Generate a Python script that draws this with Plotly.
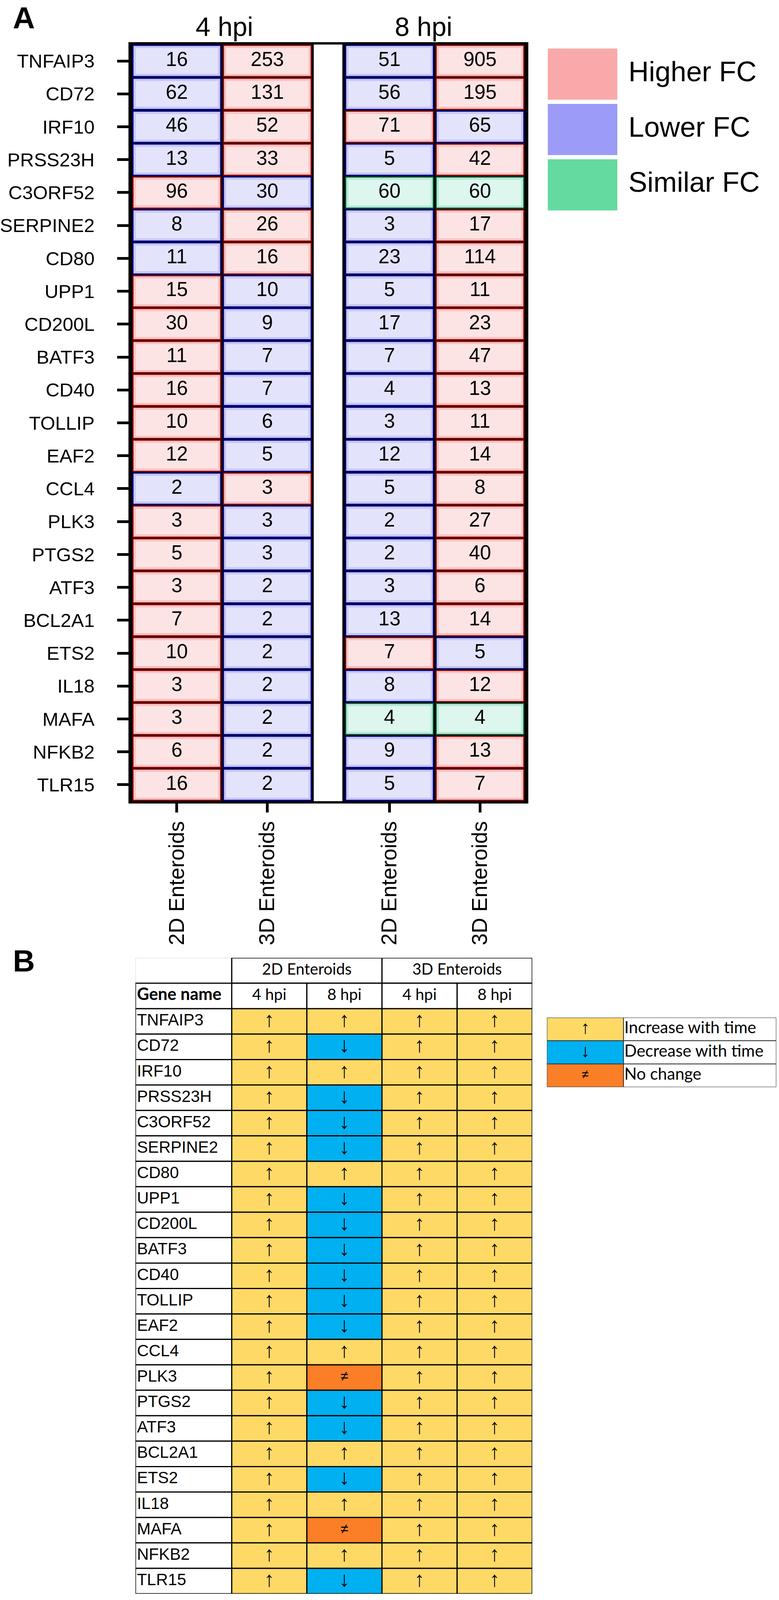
"""Fold-change comparison of 2D vs 3D enteroids (panel A) and time trend table (panel B)."""

import plotly.graph_objects as go

W, H = 1995, 4164

ARIAL = "Liberation Sans, Arial, sans-serif"
CALIBRI = "Lato, Carlito, Calibri, sans-serif"

# ---------------------------------------------------------------------------
# Data
# ---------------------------------------------------------------------------

genes = [
    "TNFAIP3", "CD72", "IRF10", "PRSS23H", "C3ORF52", "SERPINE2", "CD80",
    "UPP1", "CD200L", "BATF3", "CD40", "TOLLIP", "EAF2", "CCL4", "PLK3",
    "PTGS2", "ATF3", "BCL2A1", "ETS2", "IL18", "MAFA", "NFKB2", "TLR15",
]

fc_4hpi_2d = [16, 62, 46, 13, 96, 8, 11, 15, 30, 11, 16, 10, 12, 2, 3, 5, 3, 7, 10, 3, 3, 6, 16]
fc_4hpi_3d = [253, 131, 52, 33, 30, 26, 16, 10, 9, 7, 7, 6, 5, 3, 3, 3, 2, 2, 2, 2, 2, 2, 2]
fc_8hpi_2d = [51, 56, 71, 5, 60, 3, 23, 5, 17, 7, 4, 3, 12, 5, 2, 2, 3, 13, 7, 8, 4, 9, 5]
fc_8hpi_3d = [905, 195, 65, 42, 60, 17, 114, 11, 23, 47, 13, 11, 14, 8, 27, 40, 6, 14, 5, 12, 4, 13, 7]

# class of the 2D column at each time point (H higher, L lower, S similar);
# the 3D column takes the opposite class
class_4hpi_2d = ["L", "L", "L", "L", "H", "L", "L", "H", "H", "H", "H", "H",
                 "H", "L", "H", "H", "H", "H", "H", "H", "H", "H", "H"]
class_8hpi_2d = ["L", "L", "H", "L", "S", "L", "L", "L", "L", "L", "L", "L",
                 "L", "L", "L", "L", "L", "L", "H", "L", "S", "L", "L"]

column_labels = ["2D Enteroids", "3D Enteroids", "2D Enteroids", "3D Enteroids"]
time_labels = ["4 hpi", "8 hpi"]
fc_legend_labels = ["Higher FC", "Lower FC", "Similar FC"]

# panel B: trend with time (up / down / nc)
trend_2d_4hpi = ["up"] * 23
trend_2d_8hpi = ["up", "down", "up", "down", "down", "down", "up", "down", "down",
                 "down", "down", "down", "down", "up", "nc", "down", "down", "up",
                 "down", "up", "nc", "up", "down"]
trend_3d_4hpi = ["up"] * 23
trend_3d_8hpi = ["up"] * 23

table_groups = ["2D Enteroids", "3D Enteroids"]
table_times = ["4 hpi", "8 hpi", "4 hpi", "8 hpi"]
trend_legend_labels = ["Increase with time", "Decrease with time", "No change"]

# ---------------------------------------------------------------------------
# Styling
# ---------------------------------------------------------------------------

OPPOSITE = {"H": "L", "L": "H", "S": "S"}
CELL_LIGHT = {"H": "#fde4e4", "L": "#e3e3fb", "S": "#ddf6ee"}
CELL_MID = {"H": "#f6c2c2", "L": "#c6c6f4", "S": "#b2ead6"}
CELL_EDGE = {"H": "#8a0000", "L": "#000088", "S": "#00502a"}
LEGEND_FC_COLORS = ["#f9a9a9", "#9c9cf8", "#64d9a0"]

TREND_COLOR = {"up": "#ffd966", "down": "#00b0f0", "nc": "#fa7f26"}
TREND_GLYPH = {"up": "\u2191", "down": "\u2193", "nc": "\u2260"}
GLYPH_SIZE = {"up": 54, "down": 54, "nc": 36}
LEGEND_GLYPH_SIZE = {"up": 46, "down": 46, "nc": 32}
trend_keys = ["up", "down", "nc"]

# the browser window shows a little less than the full 4164 px, so the
# table of panel B is kept slightly shorter than in the original
B_TOP, B_BOTTOM = 2452, 4080


def fx(p):
    return p / W


def fy(p):
    return 1 - p / H


fig = go.Figure()

# ---------------------------------------------------------------------------
# Panel A: fold-change grid
# ---------------------------------------------------------------------------

PX_PER_UNIT = 234.0
col_pos = [0, 1, 2.35, 3.35]
cell_w = 227 / PX_PER_UNIT
cell_h = 0.95
inset_x = 7 / PX_PER_UNIT
inset_y = 7 / 84.2
rows = list(range(len(genes)))

fc_columns = [fc_4hpi_2d, fc_4hpi_3d, fc_8hpi_2d, fc_8hpi_3d]
class_columns = [
    class_4hpi_2d,
    [OPPOSITE[c] for c in class_4hpi_2d],
    class_8hpi_2d,
    [OPPOSITE[c] for c in class_8hpi_2d],
]

for pos, values, classes in zip(col_pos, fc_columns, class_columns):
    n = len(values)
    fig.add_trace(go.Bar(
        y=rows, x=[cell_w] * n, base=[pos - cell_w / 2] * n, orientation="h",
        width=cell_h,
        marker=dict(color=[CELL_MID[c] for c in classes],
                    line=dict(color=[CELL_EDGE[c] for c in classes], width=3)),
        xaxis="x", yaxis="y", hoverinfo="skip", showlegend=False,
    ))
    fig.add_trace(go.Bar(
        y=rows, x=[cell_w - 2 * inset_x] * n,
        base=[pos - cell_w / 2 + inset_x] * n, orientation="h",
        width=cell_h - 2 * inset_y,
        marker=dict(color=[CELL_LIGHT[c] for c in classes], line=dict(width=0)),
        xaxis="x", yaxis="y", hoverinfo="skip", showlegend=False,
    ))
    fig.add_trace(go.Scatter(
        x=[pos] * n, y=rows, mode="text", text=[str(v) for v in values],
        textposition="middle center",
        textfont=dict(family=ARIAL, size=51, color="black"),
        xaxis="x", yaxis="y", hoverinfo="skip", showlegend=False, cliponaxis=False,
    ))

x_left = (319 - 438) / PX_PER_UNIT
x_right = (1341 - 438) / PX_PER_UNIT
block_edges = [(x_left, (792 - 438) / PX_PER_UNIT), ((866 - 438) / PX_PER_UNIT, x_right)]
shapes = []
for x0, x1 in block_edges:
    shapes.append(dict(type="rect", xref="x", yref="y", x0=x0, x1=x1,
                       y0=-0.5, y1=len(genes) - 0.5, fillcolor="black",
                       line=dict(width=0), layer="below"))

annotations = []
for i, label in enumerate(time_labels):
    centre = (col_pos[2 * i] + col_pos[2 * i + 1]) / 2
    annotations.append(dict(
        text=label, x=centre, xref="x", y=fy(68), yref="paper",
        xanchor="center", yanchor="middle", showarrow=False,
        xshift=6 if i == 0 else -29,
        font=dict(family=ARIAL, size=68, color="black"),
    ))

# legend of panel A
legend_rows = list(range(len(fc_legend_labels)))
fig.add_trace(go.Bar(
    y=legend_rows, x=[1] * 3, base=[0] * 3, orientation="h", width=131 / 141.7,
    marker=dict(color=LEGEND_FC_COLORS, line=dict(width=0)),
    xaxis="x3", yaxis="y3", hoverinfo="skip", showlegend=False,
))
fig.add_trace(go.Scatter(
    x=[1.16] * 3, y=legend_rows, mode="text", text=fc_legend_labels,
    textposition="middle right",
    textfont=dict(family=ARIAL, size=72, color="black"),
    xaxis="x3", yaxis="y3", hoverinfo="skip", showlegend=False, cliponaxis=False,
))

# ---------------------------------------------------------------------------
# Panel B: trend table
# ---------------------------------------------------------------------------

B_UNIT = 1026 / 5.282
gene_col_w = 249 / B_UNIT
gene_rows = [r + 2 for r in rows]

# blank corner cell
fig.add_trace(go.Bar(
    y=[0], x=[gene_col_w], base=[-gene_col_w], orientation="h", width=1,
    marker=dict(color="white", line=dict(color="#d6d6d6", width=2)),
    xaxis="x2", yaxis="y2", hoverinfo="skip", showlegend=False,
))
# gene name column
fig.add_trace(go.Bar(
    y=[1] + gene_rows, x=[gene_col_w] * (len(genes) + 1),
    base=[-gene_col_w] * (len(genes) + 1), orientation="h", width=1,
    marker=dict(color="white", line=dict(color="black", width=3)),
    xaxis="x2", yaxis="y2", hoverinfo="skip", showlegend=False,
))
# header cells
fig.add_trace(go.Bar(
    y=[0, 0, 1, 1, 1, 1], x=[2, 2, 1, 1, 1, 1], base=[0, 2, 0, 1, 2, 3],
    orientation="h", width=1,
    marker=dict(color="white", line=dict(color="black", width=3)),
    xaxis="x2", yaxis="y2", hoverinfo="skip", showlegend=False,
))

trend_columns = [trend_2d_4hpi, trend_2d_8hpi, trend_3d_4hpi, trend_3d_8hpi]
cell_y, cell_base, cell_color = [], [], []
glyph_x, glyph_text, glyph_size = [], [], []
for j, trends in enumerate(trend_columns):
    for r, t in zip(gene_rows, trends):
        cell_y.append(r)
        cell_base.append(j)
        cell_color.append(TREND_COLOR[t])
        glyph_x.append(j + 0.5)
        glyph_text.append(TREND_GLYPH[t])
        glyph_size.append(GLYPH_SIZE[t])

fig.add_trace(go.Bar(
    y=cell_y, x=[1] * len(cell_y), base=cell_base, orientation="h", width=1,
    marker=dict(color=cell_color, line=dict(color="black", width=3)),
    xaxis="x2", yaxis="y2", hoverinfo="skip", showlegend=False,
))
fig.add_trace(go.Scatter(
    x=glyph_x, y=cell_y, mode="text", text=glyph_text,
    textposition="middle center",
    textfont=dict(family=ARIAL, size=glyph_size, color="black"),
    xaxis="x2", yaxis="y2", hoverinfo="skip", showlegend=False, cliponaxis=False,
))

# gene names and headers
fig.add_trace(go.Scatter(
    x=[-gene_col_w + 0.02] * len(genes), y=gene_rows, mode="text", text=genes,
    textposition="middle right",
    textfont=dict(family=ARIAL, size=42, color="black"),
    xaxis="x2", yaxis="y2", hoverinfo="skip", showlegend=False, cliponaxis=False,
))
fig.add_trace(go.Scatter(
    x=[-gene_col_w + 0.02], y=[1], mode="text", text=["<b>Gene name</b>"],
    textposition="middle right",
    textfont=dict(family=CALIBRI, size=43, color="black"),
    xaxis="x2", yaxis="y2", hoverinfo="skip", showlegend=False, cliponaxis=False,
))
fig.add_trace(go.Scatter(
    x=[1, 3] + [0.5, 1.5, 2.5, 3.5], y=[0, 0, 1, 1, 1, 1], mode="text",
    text=table_groups + table_times, textposition="middle center",
    textfont=dict(family=CALIBRI, size=40, color="black"),
    xaxis="x2", yaxis="y2", hoverinfo="skip", showlegend=False, cliponaxis=False,
))

# legend of panel B
LB_UNIT = 198.0
fig.add_trace(go.Bar(
    y=legend_rows * 2, x=[1] * 3 + [593 / LB_UNIT - 1] * 3,
    base=[0] * 3 + [1] * 3, orientation="h", width=1,
    marker=dict(color=[TREND_COLOR[k] for k in trend_keys] + ["white"] * 3,
                line=dict(color="#333333", width=2)),
    xaxis="x4", yaxis="y4", hoverinfo="skip", showlegend=False,
))
fig.add_trace(go.Scatter(
    x=[0.5] * 3, y=legend_rows, mode="text",
    text=[TREND_GLYPH[k] for k in trend_keys], textposition="middle center",
    textfont=dict(family=ARIAL, size=[LEGEND_GLYPH_SIZE[k] for k in trend_keys],
                  color="black"),
    xaxis="x4", yaxis="y4", hoverinfo="skip", showlegend=False, cliponaxis=False,
))
fig.add_trace(go.Scatter(
    x=[1.01] * 3, y=legend_rows, mode="text", text=trend_legend_labels,
    textposition="middle right",
    textfont=dict(family=CALIBRI, size=42, color="black"),
    xaxis="x4", yaxis="y4", hoverinfo="skip", showlegend=False, cliponaxis=False,
))

# panel letters
for letter, y_px in (("A", 46), ("B", 2460)):
    annotations.append(dict(
        text=f"<b>{letter}</b>", x=fx(12), xref="paper", y=fy(y_px), yref="paper",
        xanchor="left", yanchor="middle", showarrow=False,
        font=dict(family=ARIAL, size=78, color="black"),
    ))

hidden = dict(showticklabels=False, showgrid=False, zeroline=False,
              showline=False, ticks="", fixedrange=True)

fig.update_layout(
    width=W, height=H,
    margin=dict(l=0, r=0, t=0, b=0),
    paper_bgcolor="white", plot_bgcolor="white",
    barmode="overlay",
    showlegend=False,
    shapes=shapes,
    annotations=annotations,
    xaxis=dict(
        domain=[fx(319), fx(1341)], range=[x_left, x_right],
        tickmode="array", tickvals=col_pos, ticktext=column_labels,
        tickangle=-90, ticks="outside", ticklen=23, tickwidth=7, tickcolor="black",
        tickfont=dict(family=ARIAL, size=55, color="black"),
        showline=True, mirror=True, linewidth=6, linecolor="black",
        showgrid=False, zeroline=False, fixedrange=True,
    ),
    yaxis=dict(
        domain=[fy(2051), fy(114)], range=[len(genes) - 0.5, -0.5],
        tickmode="array", tickvals=rows, ticktext=genes,
        ticks="outside", ticklen=29, tickwidth=7, tickcolor="black",
        ticklabelstandoff=48,
        tickfont=dict(family=ARIAL, size=49, color="black"),
        showline=True, mirror=True, linewidth=6, linecolor="black",
        showgrid=False, zeroline=False, fixedrange=True,
    ),
    xaxis2=dict(domain=[fx(331), fx(1357)], range=[-gene_col_w, 4], anchor="y2", **hidden),
    yaxis2=dict(domain=[fy(B_BOTTOM), fy(B_TOP)], range=[len(genes) + 1.5, -0.5],
                anchor="x2", **hidden),
    xaxis3=dict(domain=[fx(1397), 1.0], range=[0, 598 / 180], anchor="y3", **hidden),
    yaxis3=dict(domain=[fy(544), fy(119)], range=[2.5, -0.5], anchor="x3", **hidden),
    xaxis4=dict(domain=[fx(1395), fx(1988)], range=[0, 593 / LB_UNIT], anchor="y4", **hidden),
    yaxis4=dict(domain=[fy(2783), fy(2605)], range=[2.5, -0.5], anchor="x4", **hidden),
)

# the page's default body margin would push the figure off the window
fig.write_html(
    "out.html",
    config={"displayModeBar": False},
    post_script="document.body.style.margin = '0';",
)
